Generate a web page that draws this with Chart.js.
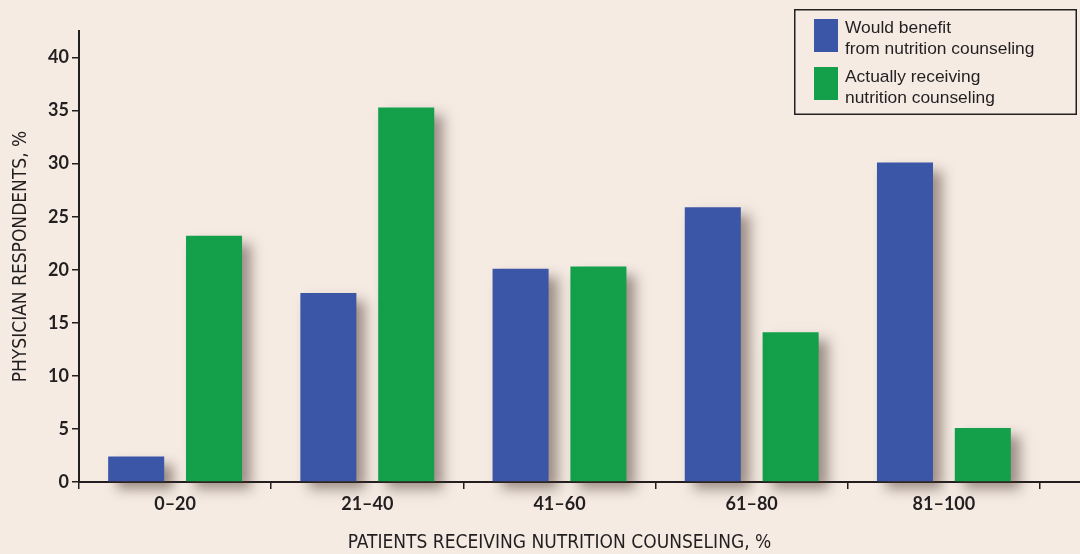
<!DOCTYPE html>
<html>
<head>
<meta charset="utf-8">
<script src="https://cdn.jsdelivr.net/npm/chart.js@4.4.1/dist/chart.umd.min.js"></script>
<style>
  html, body { margin: 0; padding: 0; background: #f5ebe3; }
  #wrap { width: 1080px; height: 554px; position: relative; }
  canvas { display: block; }
</style>
</head>
<body>
<div id="wrap"><canvas id="chart" width="1080" height="554"></canvas></div>
<script>
// Share of patients receiving nutrition counseling (categories, %)
const categories = ['0–20', '21–40', '41–60', '61–80', '81–100'];
// Physician respondents, %
const wouldBenefit = [2.4, 17.8, 20.1, 25.9, 30.1];
const actuallyReceiving = [23.2, 35.3, 20.3, 14.1, 5.1];
const yTickValues = [0, 5, 10, 15, 20, 25, 30, 35, 40];
const seriesNames = [
  ['Would benefit', 'from nutrition counseling'],
  ['Actually receiving', 'nutrition counseling']
];
const xTitle = 'PATIENTS RECEIVING NUTRITION COUNSELING, %';
const yTitle = 'PHYSICIAN RESPONDENTS, %';

const BG = '#f5ebe3';
const INK = '#231f20';
const BLUE = '#3c56a7';
const GREEN = '#14a04a';
const TICK_FONT = { family: 'Lato, "Open Sans", sans-serif', weight: 'bold', size: 18 };
const TITLE_FONT = { family: '"Liberation Sans Narrow", "DejaVu Sans Condensed", "Roboto", sans-serif', size: 19 };

// Soft drop shadow behind every bar
const barShadow = {
  id: 'barShadow',
  beforeDatasetsDraw(chart) {
    const ctx = chart.ctx;
    ctx.save();
    ctx.shadowColor = 'rgba(70, 50, 40, 0.5)';
    ctx.shadowBlur = 12;
    ctx.shadowOffsetX = 9;
    ctx.shadowOffsetY = 8;
  },
  afterDatasetsDraw(chart) {
    chart.ctx.restore();
  }
};

// Baseline continues to the right edge; boxed legend in the top-right corner
const frameAndLegend = {
  id: 'frameAndLegend',
  afterDraw(chart) {
    const ctx = chart.ctx;
    const area = chart.chartArea;
    ctx.save();
    ctx.strokeStyle = INK;
    ctx.lineWidth = 2;
    ctx.beginPath();
    ctx.moveTo(area.right - 1, area.bottom);
    ctx.lineTo(chart.width, area.bottom);
    ctx.stroke();

    // legend box
    ctx.fillStyle = BG;
    ctx.fillRect(794, 9, 283, 106);
    ctx.lineWidth = 1.5;
    ctx.strokeRect(794.75, 9.75, 281.5, 104.5);

    const swatchY = [19, 67];
    const baseY = [[33, 54], [82, 103]];
    ctx.font = '17.4px "Liberation Sans", Arial, sans-serif';
    ctx.textBaseline = 'alphabetic';
    ctx.textAlign = 'left';
    chart.data.datasets.forEach((ds, i) => {
      ctx.fillStyle = ds.backgroundColor;
      ctx.fillRect(814, swatchY[i], 24, 33);
      ctx.fillStyle = INK;
      seriesNames[i].forEach((line, j) => ctx.fillText(line, 845, baseY[i][j]));
    });
    ctx.restore();
  }
};

new Chart(document.getElementById('chart'), {
  type: 'bar',
  data: {
    labels: categories,
    datasets: [
      { label: seriesNames[0].join(' '), data: wouldBenefit, backgroundColor: BLUE, clip: false },
      { label: seriesNames[1].join(' '), data: actuallyReceiving, backgroundColor: GREEN, clip: false }
    ]
  },
  options: {
    responsive: false,
    animation: false,
    devicePixelRatio: 1,
    categoryPercentage: 0.81,
    barPercentage: 0.72,
    layout: { padding: { top: 31, right: 40, left: 0, bottom: 0 } },
    plugins: {
      legend: { display: false },
      tooltip: { enabled: false }
    },
    scales: {
      x: {
        z: 1,
        offset: true,
        grid: {
          offset: true,
          drawOnChartArea: false,
          drawTicks: true,
          tickLength: 7,
          color: INK,
          lineWidth: 1.5
        },
        border: { display: true, color: INK, width: 2 },
        ticks: { font: TICK_FONT, color: INK, padding: 4 },
        title: { display: true, text: xTitle, font: TITLE_FONT, color: INK, padding: { top: 0, bottom: 0 } },
        afterFit(scale) { scale.height = 72; }
      },
      y: {
        z: 1,
        min: 0,
        max: 42.5,
        afterBuildTicks(scale) { scale.ticks = yTickValues.map(v => ({ value: v })); },
        grid: {
          drawOnChartArea: false,
          drawTicks: true,
          tickLength: 7,
          color: INK,
          lineWidth: 1.5
        },
        border: { display: true, color: INK, width: 2 },
        ticks: { font: TICK_FONT, color: INK, padding: 3 },
        title: { display: true, text: yTitle, font: TITLE_FONT, color: INK, padding: { top: 10, bottom: 0 } },
        afterFit(scale) { scale.width = 79; }
      }
    }
  },
  plugins: [barShadow, frameAndLegend]
});
</script>
</body>
</html>
